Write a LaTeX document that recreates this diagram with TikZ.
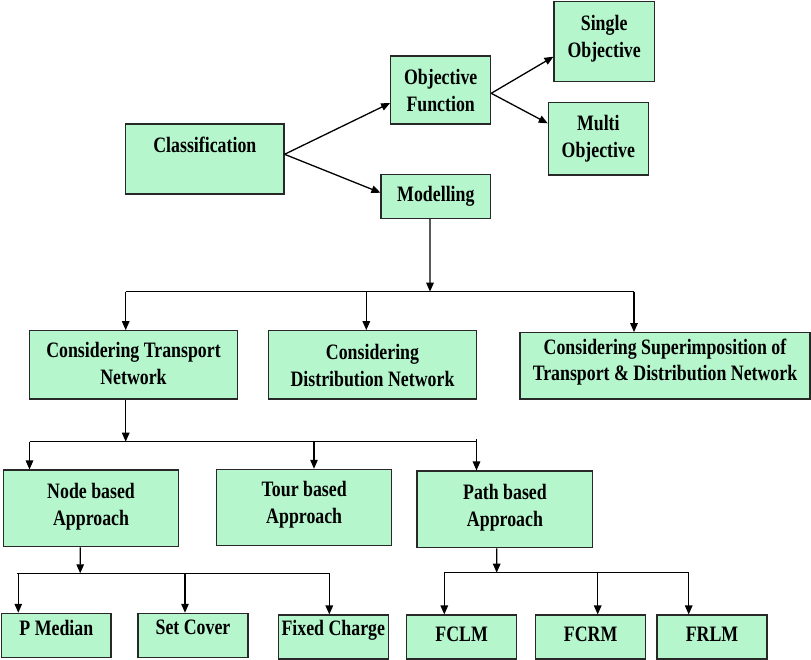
\documentclass[tikz,border=0pt]{standalone}
\usepackage{fontspec}
\setmainfont{Liberation Serif}[FakeStretch=0.81]
\usetikzlibrary{arrows.meta}
\definecolor{boxfill}{RGB}{181,246,205}
\definecolor{boxline}{RGB}{40,40,40}
\tikzset{
  flowbox/.style={draw=boxline, fill=boxfill, line width=1.1pt, inner sep=0pt, rectangle},
  boxtext/.style={inner sep=0pt, align=center, font=\bfseries\fontsize{22}{26.7}\selectfont},
  arr/.style={draw=black, line width=1.3pt, -{Triangle[length=9pt,width=7.5pt]}},
  bar/.style={draw=black, line width=1.3pt}
}
% #1 name, #2 left, #3 top, #4 right, #5 bottom, #6 text centre y, #7 text
\newcommand{\mkflowbox}[7]{%
  \pgfmathsetmacro\fbW{#4-#2}\pgfmathsetmacro\fbH{#5-#3}%
  \pgfmathsetmacro\fbX{(#2+#4)/2}\pgfmathsetmacro\fbY{(#3+#5)/2}%
  \node[flowbox, minimum width=\fbW pt, minimum height=\fbH pt] (#1) at (\fbX,\fbY) {};
  \node[boxtext] (#1-t) at (\fbX,#6) {#7};
}
\begin{document}
\begin{tikzpicture}[x=1pt, y=-1pt]
\useasboundingbox (0,0) rectangle (811,660);

% boxes
\mkflowbox{cls}{125.7}{124}{284}{194}{145}{Classification}
\mkflowbox{obj}{390.7}{56}{490.7}{124}{90.8}{Objective\\Function}
\mkflowbox{mod}{381}{174.7}{490.7}{218.3}{196}{Modelling}
\mkflowbox{sgl}{554}{1.7}{654.3}{81.7}{38.9}{Single\\Objective}
\mkflowbox{mul}{548.3}{102.7}{648.3}{175}{138.5}{Multi\\Objective}
\mkflowbox{tra}{29.5}{330.7}{237.5}{399}{363.8}{Considering Transport\\Network}
\mkflowbox{dis}{268.5}{330.7}{476.5}{399}{365.8}{Considering\\Distribution Network}
\mkflowbox{sup}{520}{332.7}{810}{399}{362}{Considering Superimposition of\\Transport \& Distribution Network}
\mkflowbox{nod}{3.6}{470}{178.5}{546.7}{506.9}{Node based\\Approach}
\mkflowbox{tou}{216.8}{469.3}{391.6}{545.7}{505}{Tour based\\Approach}
\mkflowbox{pat}{417}{471}{592.9}{547.7}{507.5}{Path based\\Approach}
\mkflowbox{pme}{1.7}{613.3}{111}{657.3}{627.5}{P Median}
\mkflowbox{sco}{138}{613.3}{248}{657.3}{627.5}{Set Cover}
\mkflowbox{fch}{278.3}{615}{388.3}{659}{630.2}{Fixed Charge}
\mkflowbox{fcl}{406.7}{615}{516.7}{659}{634.5}{FCLM}
\mkflowbox{fcr}{535.7}{615}{645.7}{659}{634.5}{FCRM}
\mkflowbox{frl}{657}{615}{767}{659}{634.5}{FRLM}

% top branches
\draw[arr] ([yshift=4.7pt]cls.east) -- ([yshift=-13pt]obj.west);
\draw[arr] ([yshift=4.7pt]cls.east) -- ([yshift=3.8pt]mod.west);
\draw[arr] ([yshift=-3.3pt]obj.east) -- ([yshift=-15pt]sgl.west);
\draw[arr] ([yshift=-3.3pt]obj.east) -- ([yshift=15.5pt]mul.west);

% modelling split
\coordinate (j1) at (430,291.7);
\coordinate (j1a) at (125.7,291.7);
\coordinate (j1c) at (366.3,291.7);
\coordinate (j1b) at (634,291.7);
\draw[arr] ([xshift=-5.85pt]mod.south) -- (j1);
\draw[bar] (j1a) -- (j1b);
\draw[arr] (j1a) -- (j1a |- tra.north);
\draw[arr] (j1c) -- (j1c |- dis.north);
\draw[arr] (j1b) -- (j1b |- sup.north);

% transport network split
\coordinate (j2) at (125.7,441.7);
\coordinate (j2a) at (29.5,441.7);
\coordinate (j2c) at (314,441.7);
\coordinate (j2b) at (476.5,441.7);
\draw[arr] ([xshift=-7.8pt]tra.south) -- (j2);
\draw[bar] (j2a) -- (j2b);
\draw[arr] (j2a) -- (j2a |- nod.north);
\draw[arr] (j2c) -- (j2c |- tou.north);
\draw[arr] ([yshift=3pt]j2b) -- (j2b |- pat.north);

% node based split
\coordinate (j3) at (80.2,573.3);
\coordinate (j3a) at (17.3,573.3);
\coordinate (j3c) at (185,573.3);
\coordinate (j3b) at (329.3,573.3);
\draw[arr] ([xshift=-10.8pt]nod.south) -- (j3);
\draw[bar] (j3a) -- (j3b);
\draw[arr] ([xshift=1pt]j3a) -- ([xshift=1pt]j3a |- pme.north);
\draw[arr] (j3c) -- (j3c |- sco.north);
\draw[arr] (j3b) -- (j3b |- fch.north);

% path based split
\coordinate (j4) at (496.7,572.7);
\coordinate (j4a) at (444.3,572.7);
\coordinate (j4c) at (597.7,572.7);
\coordinate (j4b) at (688.7,572.7);
\draw[arr] ([xshift=-8.3pt]pat.south) -- (j4);
\draw[bar] (j4a) -- (j4b);
\draw[arr] (j4a) -- (j4a |- fcl.north);
\draw[arr] (j4c) -- (j4c |- fcr.north);
\draw[arr] (j4b) -- (j4b |- frl.north);
\end{tikzpicture}
\end{document}
